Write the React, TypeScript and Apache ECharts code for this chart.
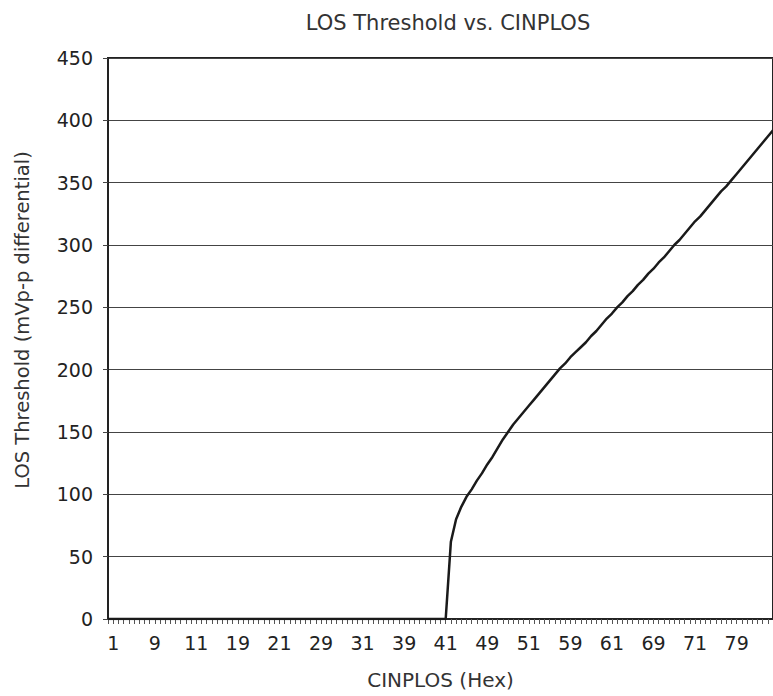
import React, { useEffect, useRef } from "react";
import * as echarts from "echarts";

// Category axis: CINPLOS codes 0x00 .. 0x80 (hex labels)
const categories: string[] = [];
for (let i = 0; i <= 0x80; i++) categories.push(i.toString(16).toUpperCase());

// Curve points (hex code, LOS threshold mVp-p)
const curveX = [
  "0", "41", "42", "43", "44", "45", "46", "47", "48", "49", "4A", "4B", "4C", "4D",
  "4E", "4F", "50", "51", "52", "53", "54", "55", "56", "57", "58", "59", "5A", "5B",
  "5C", "5D", "5E", "5F", "60", "61", "62", "63", "64", "65", "66", "67", "68", "69",
  "6A", "6B", "6C", "6D", "6E", "6F", "70", "71", "72", "73", "74", "75", "76", "77",
  "78", "79", "7A", "7B", "7C", "7D", "7E", "7F", "80",
];
const curveY = [
  0, 0, 62, 80, 90, 98, 104, 111, 117, 124, 130, 137, 144, 150,
  156, 161, 166, 171, 176, 181, 186, 191, 196, 201, 205, 210, 214, 218,
  222, 227, 231, 236, 241, 245, 250, 254, 259, 263, 268, 272, 277, 281,
  286, 290, 295, 300, 304, 309, 314, 319, 323, 328, 333, 338, 343, 347,
  352, 357, 362, 367, 372, 377, 382, 387, 392,
];

const yTicks = { min: 0, max: 450, interval: 50 };

const FONT = "DejaVu Sans";

export default function App() {
  const ref = useRef<HTMLDivElement>(null);
  useEffect(() => {
    if (!ref.current) return;
    const chart = echarts.init(ref.current, undefined, { renderer: "svg" });
    chart.setOption({
      animation: false,
      backgroundColor: "#ffffff",
      textStyle: { fontFamily: FONT },
      title: {
        text: "LOS Threshold vs. CINPLOS",
        left: 443,
        textAlign: "center",
        top: 7,
        textStyle: { fontFamily: FONT, fontSize: 21, fontWeight: "normal", color: "#333" },
      },
      graphic: [
        {
          type: "text",
          x: 22,
          y: 320,
          rotation: Math.PI / 2,
          style: {
            text: "LOS Threshold (mVp-p differential)",
            fontFamily: FONT,
            fontSize: 19.5,
            fill: "#333",
            align: "center",
            verticalAlign: "middle",
          },
        },
      ],
      grid: {
        left: 108,
        top: 58,
        right: -3,
        bottom: 77,
        show: true,
        borderColor: "#222",
        borderWidth: 2,
      },
      xAxis: {
        type: "category",
        data: categories,
        boundaryGap: false,
        name: "CINPLOS (Hex)",
        nameLocation: "middle",
        nameGap: 51,
        nameTextStyle: { fontFamily: FONT, fontSize: 20, color: "#333" },
        axisLine: { lineStyle: { color: "#222", width: 2 } },
        axisTick: {
          show: true,
          interval: 0,
          length: 5,
          lineStyle: { color: "#555", width: 1 },
        },
        axisLabel: {
          interval: (index: number) => index % 8 === 1,
          margin: 14,
          fontFamily: FONT,
          fontSize: 19,
          color: "#222",
        },
        splitLine: { show: false },
      },
      yAxis: {
        type: "value",
        min: yTicks.min,
        max: yTicks.max,
        interval: yTicks.interval,
        axisLine: { show: true, lineStyle: { color: "#222", width: 2 } },
        axisTick: { show: true, length: 5, lineStyle: { color: "#444", width: 1 } },
        axisLabel: { margin: 15, fontFamily: FONT, fontSize: 19, color: "#222" },
        splitLine: { show: true, lineStyle: { color: "#444", width: 1 } },
      },
      series: [
        {
          type: "line",
          data: curveX.map((x, i) => [x, curveY[i]]),
          showSymbol: false,
          symbol: "none",
          lineStyle: { color: "#1a1a1a", width: 2.5 },
          z: 5,
        },
      ],
    });
    return () => chart.dispose();
  }, []);
  return (
    <div
      ref={ref}
      style={{ position: "absolute", left: 0, top: 0, width: 773, height: 696 }}
    />
  );
}
